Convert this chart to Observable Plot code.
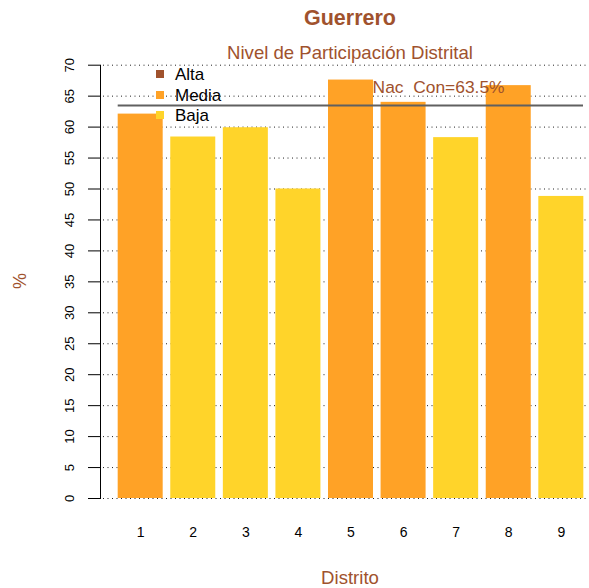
<!DOCTYPE html>
<html>
<head>
<meta charset="utf-8">
<script src="https://cdn.jsdelivr.net/npm/d3@7"></script>
<script src="https://cdn.jsdelivr.net/npm/@observablehq/plot@0.6"></script>
<style>
  html, body { margin: 0; padding: 0; background: #fff; }
  #wrap { position: relative; width: 589px; height: 588px; font-family: "Liberation Sans", Arial, sans-serif; }
  #wrap svg { position: absolute; left: 0; top: 0; }
  .ov { position: absolute; line-height: 1; white-space: nowrap; }
  .brown { color: #A0522D; }
  .leg { position: absolute; left: 156px; line-height: 1; font-size: 17px; color: #000; }
  .leg span.sw { position: absolute; left: 0; width: 8px; height: 8px; }
  .leg span.lb { position: absolute; left: 19px; }
</style>
</head>
<body>
<div id="wrap"></div>
<script>
// ---- data ----
const titulo = "Guerrero";
const subtitulo = "Nivel de Participación Distrital";
const etiquetaX = "Distrito";
const etiquetaY = "%";
const distritos = ["1", "2", "3", "4", "5", "6", "7", "8", "9"];
const valores = [62.1, 58.4, 59.9, 50.0, 67.6, 64.0, 58.3, 66.7, 48.8];
const niveles = ["Media", "Baja", "Baja", "Baja", "Media", "Media", "Baja", "Media", "Baja"];
const nivelesLeyenda = ["Alta", "Media", "Baja"];
const colores = ["#A0522D", "#FFA226", "#FFD42A"];
const yTicks = [0, 5, 10, 15, 20, 25, 30, 35, 40, 45, 50, 55, 60, 65, 70];
const nacCon = 63.5;
const nacConTexto = "Nac  Con=63.5%";

const data = distritos.map((d, i) => ({distrito: d, valor: valores[i], nivel: niveles[i]}));

const chart = Plot.plot({
  width: 589,
  height: 588,
  marginTop: 64.7,
  marginBottom: 90,
  marginLeft: 100,
  marginRight: 2,
  style: {fontFamily: "'Liberation Sans', Arial, sans-serif", background: "transparent"},
  x: {domain: distritos, paddingInner: 0.144, paddingOuter: 0.07, insetLeft: 14, round: false, label: null},
  y: {domain: [0, 70], label: null},
  color: {domain: nivelesLeyenda, range: colores},
  marks: [
    Plot.ruleY(yTicks, {stroke: "#222", strokeWidth: 1, strokeDasharray: "1,3.5", insetLeft: 3, insetRight: 1}),
    Plot.barY(data, {x: "distrito", y: "valor", fill: "nivel"}),
    Plot.ruleY([nacCon], {stroke: "#606060", strokeWidth: 2, insetLeft: 17.7, insetRight: 4}),
    Plot.text([nacConTexto], {x: () => distritos[5], y: () => nacCon, text: d => d, dx: 35, dy: -12, fill: "#A0522D", fontSize: 17.4, lineAnchor: "bottom", textAnchor: "middle"}),
    Plot.axisY({ticks: yTicks, tickSize: 12, tickRotate: -90, tickPadding: 15, fontSize: 13, label: null, stroke: "#000", fill: "#000"}),
    Plot.axisX({tickSize: 0, tickPadding: 29, fontSize: 14, label: null, fill: "#000"}),
    Plot.frame({anchor: "left", stroke: "#000"})
  ]
});

const wrap = document.getElementById("wrap");
wrap.appendChild(chart);
chart.querySelectorAll("text").forEach(t => t.setAttribute("xml:space", "preserve"));

function ov(text, css, cls) {
  const d = document.createElement("div");
  d.className = "ov " + (cls || "");
  d.textContent = text;
  Object.assign(d.style, css);
  wrap.appendChild(d);
  return d;
}
ov(titulo, {left: "350px", top: "7.8px", fontSize: "21.5px", fontWeight: "bold", transform: "translateX(-50%)"}, "brown");
ov(subtitulo, {left: "350px", top: "44.3px", fontSize: "18.6px", transform: "translateX(-50%)"}, "brown");
ov(etiquetaX, {left: "350px", top: "569.3px", fontSize: "18.6px", transform: "translateX(-50%)"}, "brown");
ov(etiquetaY, {left: "20px", top: "281px", fontSize: "18px", transform: "translate(-50%,-50%) rotate(-90deg)"}, "brown");

// legend
const legTops = [74, 94.5, 115];
nivelesLeyenda.forEach((n, i) => {
  const g = document.createElement("div");
  g.className = "leg";
  g.style.top = legTops[i] + "px";
  const sw = document.createElement("span");
  sw.className = "sw";
  sw.style.background = colores[i];
  sw.style.top = "-4px";
  const lb = document.createElement("span");
  lb.className = "lb";
  lb.textContent = n;
  lb.style.top = "-8px";
  g.appendChild(sw);
  g.appendChild(lb);
  wrap.appendChild(g);
});
</script>
</body>
</html>
